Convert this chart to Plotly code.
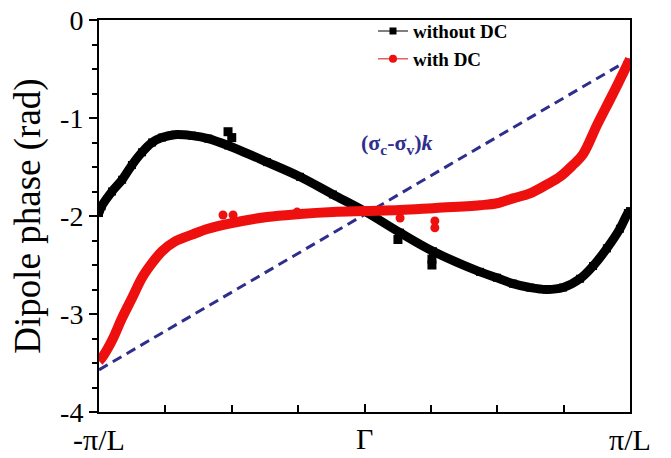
import plotly.graph_objects as go

# Wave vector across the Brillouin zone, normalised so that -π/L -> -1 and π/L -> 1
k_no_dc = [-1.0, -0.990, -0.951, -0.913, -0.876, -0.838, -0.800, -0.763, -0.714,
           -0.650, -0.589, -0.514, -0.367, -0.243, -0.119, 0.0, 0.134, 0.258,
           0.435, 0.499, 0.559, 0.623, 0.686, 0.748, 0.812, 0.861, 0.913, 0.962,
           0.992, 1.0]
phase_no_dc = [-1.97, -1.90, -1.75, -1.63, -1.48, -1.35, -1.25, -1.20, -1.17,
               -1.18, -1.21, -1.28, -1.45, -1.60, -1.78, -1.95, -2.17, -2.36,
               -2.57, -2.63, -2.69, -2.73, -2.75, -2.73, -2.64, -2.51, -2.33, -2.13,
               -1.97, -1.95]

k_dc = [-1.0, -0.990, -0.951, -0.913, -0.876, -0.838, -0.800, -0.763, -0.714,
        -0.650, -0.589, -0.514, -0.367, -0.243, -0.119, 0.0, 0.134, 0.258, 0.435,
        0.499, 0.559, 0.623, 0.686, 0.736, 0.785, 0.823, 0.876, 0.925, 0.962, 1.0]
phase_dc = [-3.48, -3.45, -3.27, -3.04, -2.84, -2.63, -2.48, -2.36, -2.26,
            -2.19, -2.13, -2.08, -2.01, -1.98, -1.96, -1.95, -1.94, -1.92, -1.89,
            -1.87, -1.82, -1.77, -1.68, -1.60, -1.48, -1.37, -1.07, -0.81, -0.61, -0.40]

# Scattered outlier points of each data set
k_no_dc_out = [-0.514, -0.500, 0.126, 0.254, 0.254]
phase_no_dc_out = [-1.14, -1.20, -2.24, -2.44, -2.50]
k_dc_out = [-0.533, -0.495, -0.254, 0.134, 0.265, 0.265]
phase_dc_out = [-1.99, -1.99, -1.96, -2.02, -2.05, -2.12]

# Linear reference (σc-σv)k
k_lin = [-1.0, 1.0]
phase_lin = [-3.57, -0.40]

x_tickvals = [-1, 0, 1]
x_ticktext = ["-π/L", "", "π/L"]
y_tickvals = [0, -1, -2, -3, -4]
y_ticktext = ["0", "-1", "-2", "-3", "-4"]

SERIF = "Liberation Serif, Times New Roman, serif"
BLACK = "#000000"
RED = "#ee0f0f"
NAVY = "#2e2e8c"

fig = go.Figure()

fig.add_trace(go.Scatter(
    x=k_lin, y=phase_lin, mode="lines",
    line=dict(color=NAVY, width=3, dash="10px,6px"),
    showlegend=False, hoverinfo="skip"))

fig.add_trace(go.Scatter(
    x=k_no_dc, y=phase_no_dc, mode="lines+markers",
    line=dict(color=BLACK, width=9, shape="spline", smoothing=1.0),
    marker=dict(symbol="square", size=8, color=BLACK),
    showlegend=False))
fig.add_trace(go.Scatter(
    x=k_no_dc_out, y=phase_no_dc_out, mode="markers",
    marker=dict(symbol="square", size=9, color=BLACK),
    showlegend=False))

fig.add_trace(go.Scatter(
    x=k_dc, y=phase_dc, mode="lines",
    line=dict(color=RED, width=10, shape="spline", smoothing=1.0),
    showlegend=False))
fig.add_trace(go.Scatter(
    x=k_dc_out, y=phase_dc_out, mode="markers",
    marker=dict(symbol="circle", size=9, color=RED),
    showlegend=False))

# Legend entries with thin lines and small markers
fig.add_trace(go.Scatter(
    x=[None], y=[None], mode="lines+markers", name="without DC",
    line=dict(color="#555555", width=1.5),
    marker=dict(symbol="square", size=7, color=BLACK)))
fig.add_trace(go.Scatter(
    x=[None], y=[None], mode="lines+markers", name="with DC",
    line=dict(color="#e06060", width=1.5),
    marker=dict(symbol="circle", size=8, color=RED)))

fig.add_annotation(
    x=0.119, y=-1.27, xref="x", yref="y",
    text="<b>(σ<sub>c</sub>-σ<sub>v</sub>)<i>k</i></b>",
    showarrow=False, font=dict(family=SERIF, size=22, color=NAVY))

fig.add_annotation(
    x=0, y=-0.116, xref="x", yref="paper", yanchor="bottom",
    text="Γ", showarrow=False,
    font=dict(family=SERIF, size=30, color=BLACK))

fig.update_layout(
    width=671, height=458,
    margin=dict(l=99, r=41, t=17, b=46),
    paper_bgcolor="white", plot_bgcolor="white",
    font=dict(family=SERIF, color=BLACK),
    legend=dict(
        x=0.516, y=1.02, xanchor="left", yanchor="top",
        bgcolor="rgba(0,0,0,0)", itemwidth=30, tracegroupgap=0,
        font=dict(family=SERIF, size=19, color=BLACK, weight="bold")),
    xaxis=dict(
        range=[-1, 1], tickmode="array", tickvals=x_tickvals, ticktext=x_ticktext,
        ticks="inside", ticklen=8, tickwidth=2, tickcolor=BLACK,
        ticklabelstandoff=0, automargin=False,
        minor=dict(tickmode="array", tickvals=[-0.75, -0.5, -0.25, 0.25, 0.5, 0.75],
                   ticks="inside", ticklen=7, tickwidth=2, tickcolor=BLACK),
        showline=True, linecolor=BLACK, linewidth=2, mirror=True,
        showgrid=False, zeroline=False,
        tickfont=dict(family=SERIF, size=30, color=BLACK)),
    yaxis=dict(
        range=[-4, 0], tickmode="array", tickvals=y_tickvals, ticktext=y_ticktext,
        ticks="outside", ticklen=8, tickwidth=2, tickcolor=BLACK, automargin=False,
        minor=dict(dtick=0.25, ticks="outside", ticklen=5, tickwidth=1.5, tickcolor=BLACK),
        showline=True, linecolor=BLACK, linewidth=2, mirror=True,
        showgrid=False, zeroline=False,
        tickfont=dict(family=SERIF, size=28, color=BLACK),
        title=dict(text="Dipole phase (rad)", standoff=8,
                   font=dict(family=SERIF, size=37, color=BLACK))),
)

fig.write_html("out.html")
